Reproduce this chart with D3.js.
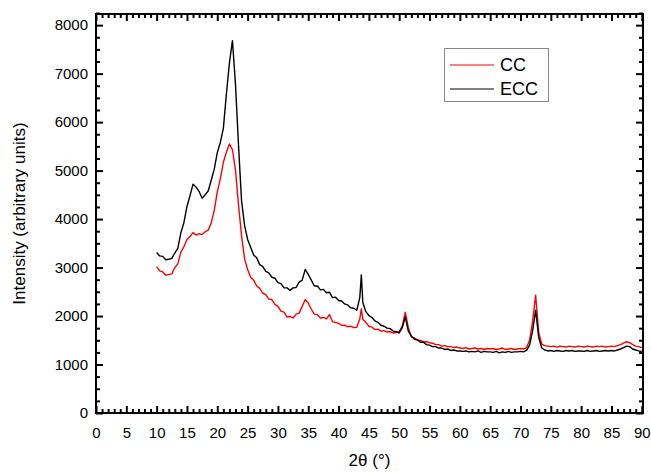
<!DOCTYPE html>
<html><head><meta charset="utf-8">
<script src="https://cdn.jsdelivr.net/npm/d3@7"></script>
<style>
body{margin:0;background:#fff;}
text{font-family:"Liberation Sans",Arial,Helvetica,sans-serif;fill:#000;}
</style></head>
<body><svg id="c" width="651" height="472"></svg>
<script>
const twoTheta = [
10,10.5,11,11.5,12,12.5,13,13.5,14,14.5,
15,15.5,16,16.5,17,17.5,18,18.5,19,19.5,
20,20.5,21,21.5,22,22.5,23,23.5,24,24.5,
25,25.5,26,26.5,27,27.5,28,28.5,29,29.5,
30,30.5,31,31.5,32,32.5,33,33.5,34,34.5,
35,35.5,36,36.5,37,37.5,38,38.5,39,39.5,
40,40.5,41,41.5,42,42.5,
43,43.5,43.75,44,44.5,
45,45.5,46,46.5,47,47.5,48,48.5,49,49.5,
50,50.5,51,51.5,52,52.5,53,53.5,54,54.5,
55,55.5,56,56.5,57,57.5,58,58.5,59,59.5,
60,60.5,61,61.5,62,62.5,63,63.5,64,64.5,
65,65.5,66,66.5,67,67.5,68,68.5,69,69.5,
70,70.5,71,71.5,72,72.5,73,73.5,74,74.5,
75,75.5,76,76.5,77,77.5,78,78.5,79,79.5,
80,80.5,81,81.5,82,82.5,83,83.5,84,84.5,
85,85.5,86,86.5,87,87.5,88,88.5,89,89.5,
90];
const ccValues = [
3020,2930,2910,2840,2860,2870,3000,3080,3320,3430,
3580,3640,3720,3670,3700,3680,3740,3770,3920,4180,
4560,4830,5170,5380,5550,5430,5010,4290,3660,3180,
2960,2800,2740,2620,2570,2470,2440,2350,2340,2240,
2200,2100,2080,1980,1990,1960,2040,2060,2200,2340,
2270,2140,2040,2030,1960,1970,1940,2030,1880,1870,
1850,1810,1810,1780,1790,1760,
1770,1940,2150,1930,1870,
1790,1770,1720,1730,1690,1700,1670,1680,1650,1660,
1680,1790,2080,1760,1570,1550,1500,1500,1470,1470,
1450,1440,1410,1410,1380,1390,1370,1370,1350,1360,
1340,1330,1350,1320,1330,1340,1320,1330,1310,1330,
1320,1330,1310,1320,1340,1310,1320,1330,1310,1320,
1330,1320,1350,1500,1900,2430,1660,1420,1390,1380,
1370,1380,1360,1380,1370,1360,1380,1370,1360,1380,
1370,1360,1380,1370,1360,1380,1370,1380,1360,1370,
1380,1370,1390,1410,1440,1470,1450,1410,1380,1370,
1350];
const eccValues = [
3310,3240,3230,3160,3170,3190,3300,3400,3720,3930,
4260,4480,4720,4660,4570,4430,4500,4580,4800,5030,
5370,5580,5870,6580,7220,7680,6780,5520,4380,3870,
3580,3420,3260,3200,3060,3020,2920,2890,2800,2780,
2690,2670,2580,2580,2530,2580,2590,2700,2740,2960,
2860,2740,2620,2620,2540,2550,2480,2490,2380,2390,
2320,2310,2250,2230,2170,2160,
2120,2380,2850,2280,2090,
2010,1970,1900,1870,1810,1790,1750,1740,1690,1680,
1650,1760,1980,1690,1590,1520,1510,1460,1460,1410,
1400,1370,1370,1340,1340,1310,1320,1290,1300,1280,
1280,1270,1280,1260,1270,1260,1280,1250,1270,1260,
1260,1250,1270,1240,1260,1250,1270,1250,1260,1260,
1270,1260,1290,1400,1700,2120,1560,1340,1300,1280,
1290,1270,1290,1280,1270,1290,1280,1290,1270,1280,
1280,1270,1290,1270,1280,1290,1270,1280,1290,1280,
1290,1280,1300,1320,1350,1380,1370,1320,1300,1280,
1270];
const seriesNames = ["CC","ECC"];
const seriesColors = ["#ff0000","#000000"];
const xTicks = [0,5,10,15,20,25,30,35,40,45,50,55,60,65,70,75,80,85,90];
const yTicks = [0,1000,2000,3000,4000,5000,6000,7000,8000];
const xLabel = "2θ (°)";
const yLabel = "Intensity (arbitrary units)";

const svg = d3.select("#c");
const L=96,R=643,T=14,B=413;
const x = d3.scaleLinear().domain([0,90.2]).range([L,R]);
const y = d3.scaleLinear().domain([0,8230]).range([B,T]);

const line = d3.line().x((d,i)=>x(twoTheta[i])).y(d=>y(d));
const g = svg.append("g");
[ccValues, eccValues].forEach((vals,k)=>{
  g.append("path").datum(vals).attr("d",line).attr("fill","none")
   .attr("stroke",seriesColors[k]).attr("stroke-width",1.4).attr("stroke-linejoin","round");
});

const xMinor = d3.range(0,91,1).filter(v=>v%5!==0);
const yMinor = d3.range(0,8251,250).filter(v=>v%1000!==0);
const fs = "15px";
// bottom
svg.append("g").attr("transform",`translate(0,${B})`)
  .call(d3.axisBottom(x).tickValues(xTicks).tickSizeInner(-7).tickSizeOuter(0).tickPadding(14))
  .call(a=>{a.select(".domain").remove();a.selectAll("text").style("font-size",fs);a.selectAll("line").attr("stroke-width",2);});
svg.append("g").attr("transform",`translate(0,${B})`)
  .call(d3.axisBottom(x).tickValues(xMinor).tickSizeInner(-4).tickSizeOuter(0).tickFormat(""))
  .call(a=>{a.select(".domain").remove();a.selectAll("line").attr("stroke-width",2);});
// top
svg.append("g").attr("transform",`translate(0,${T})`)
  .call(d3.axisTop(x).tickValues(xTicks).tickSizeInner(-7).tickSizeOuter(0).tickFormat(""))
  .call(a=>{a.select(".domain").remove();a.selectAll("line").attr("stroke-width",2);});
svg.append("g").attr("transform",`translate(0,${T})`)
  .call(d3.axisTop(x).tickValues(xMinor).tickSizeInner(-4).tickSizeOuter(0).tickFormat(""))
  .call(a=>{a.select(".domain").remove();a.selectAll("line").attr("stroke-width",2);});
// left
svg.append("g").attr("transform",`translate(${L},0)`)
  .call(d3.axisLeft(y).tickValues(yTicks).tickSizeInner(-7).tickSizeOuter(0).tickPadding(8).tickFormat(d3.format("d")))
  .call(a=>{a.select(".domain").remove();a.selectAll("text").style("font-size",fs);a.selectAll("line").attr("stroke-width",2);});
svg.append("g").attr("transform",`translate(${L},0)`)
  .call(d3.axisLeft(y).tickValues(yMinor).tickSizeInner(-4).tickSizeOuter(0).tickFormat(""))
  .call(a=>{a.select(".domain").remove();a.selectAll("line").attr("stroke-width",2);});
// right
svg.append("g").attr("transform",`translate(${R},0)`)
  .call(d3.axisRight(y).tickValues(yTicks).tickSizeInner(-7).tickSizeOuter(0).tickFormat(""))
  .call(a=>{a.select(".domain").remove();a.selectAll("line").attr("stroke-width",2);});
svg.append("g").attr("transform",`translate(${R},0)`)
  .call(d3.axisRight(y).tickValues(yMinor).tickSizeInner(-4).tickSizeOuter(0).tickFormat(""))
  .call(a=>{a.select(".domain").remove();a.selectAll("line").attr("stroke-width",2);});
// frame
svg.append("rect").attr("x",L).attr("y",T).attr("width",R-L).attr("height",B-T)
  .attr("fill","none").attr("stroke","#000").attr("stroke-width",2);

// axis titles
svg.append("text").attr("x",(L+R)/2).attr("y",466).attr("text-anchor","middle")
  .style("font-size","17px").text(xLabel);
svg.append("text").attr("transform",`translate(25,${(T+B)/2}) rotate(-90)`).attr("text-anchor","middle")
  .style("font-size","17px").text(yLabel);

// legend
const lg = svg.append("g");
lg.append("rect").attr("x",444.5).attr("y",48.5).attr("width",104).attr("height",53)
  .attr("fill","#fff").attr("stroke","#888").attr("stroke-width",1);
seriesNames.forEach((n,i)=>{
  const yy = 65 + i*24;
  lg.append("line").attr("x1",450).attr("x2",494).attr("y1",yy).attr("y2",yy)
    .attr("stroke",seriesColors[i]).attr("stroke-width",1);
  lg.append("text").attr("x",500).attr("y",yy).attr("dy","0.36em").style("font-size","18px").text(n);
});
</script></body></html>
